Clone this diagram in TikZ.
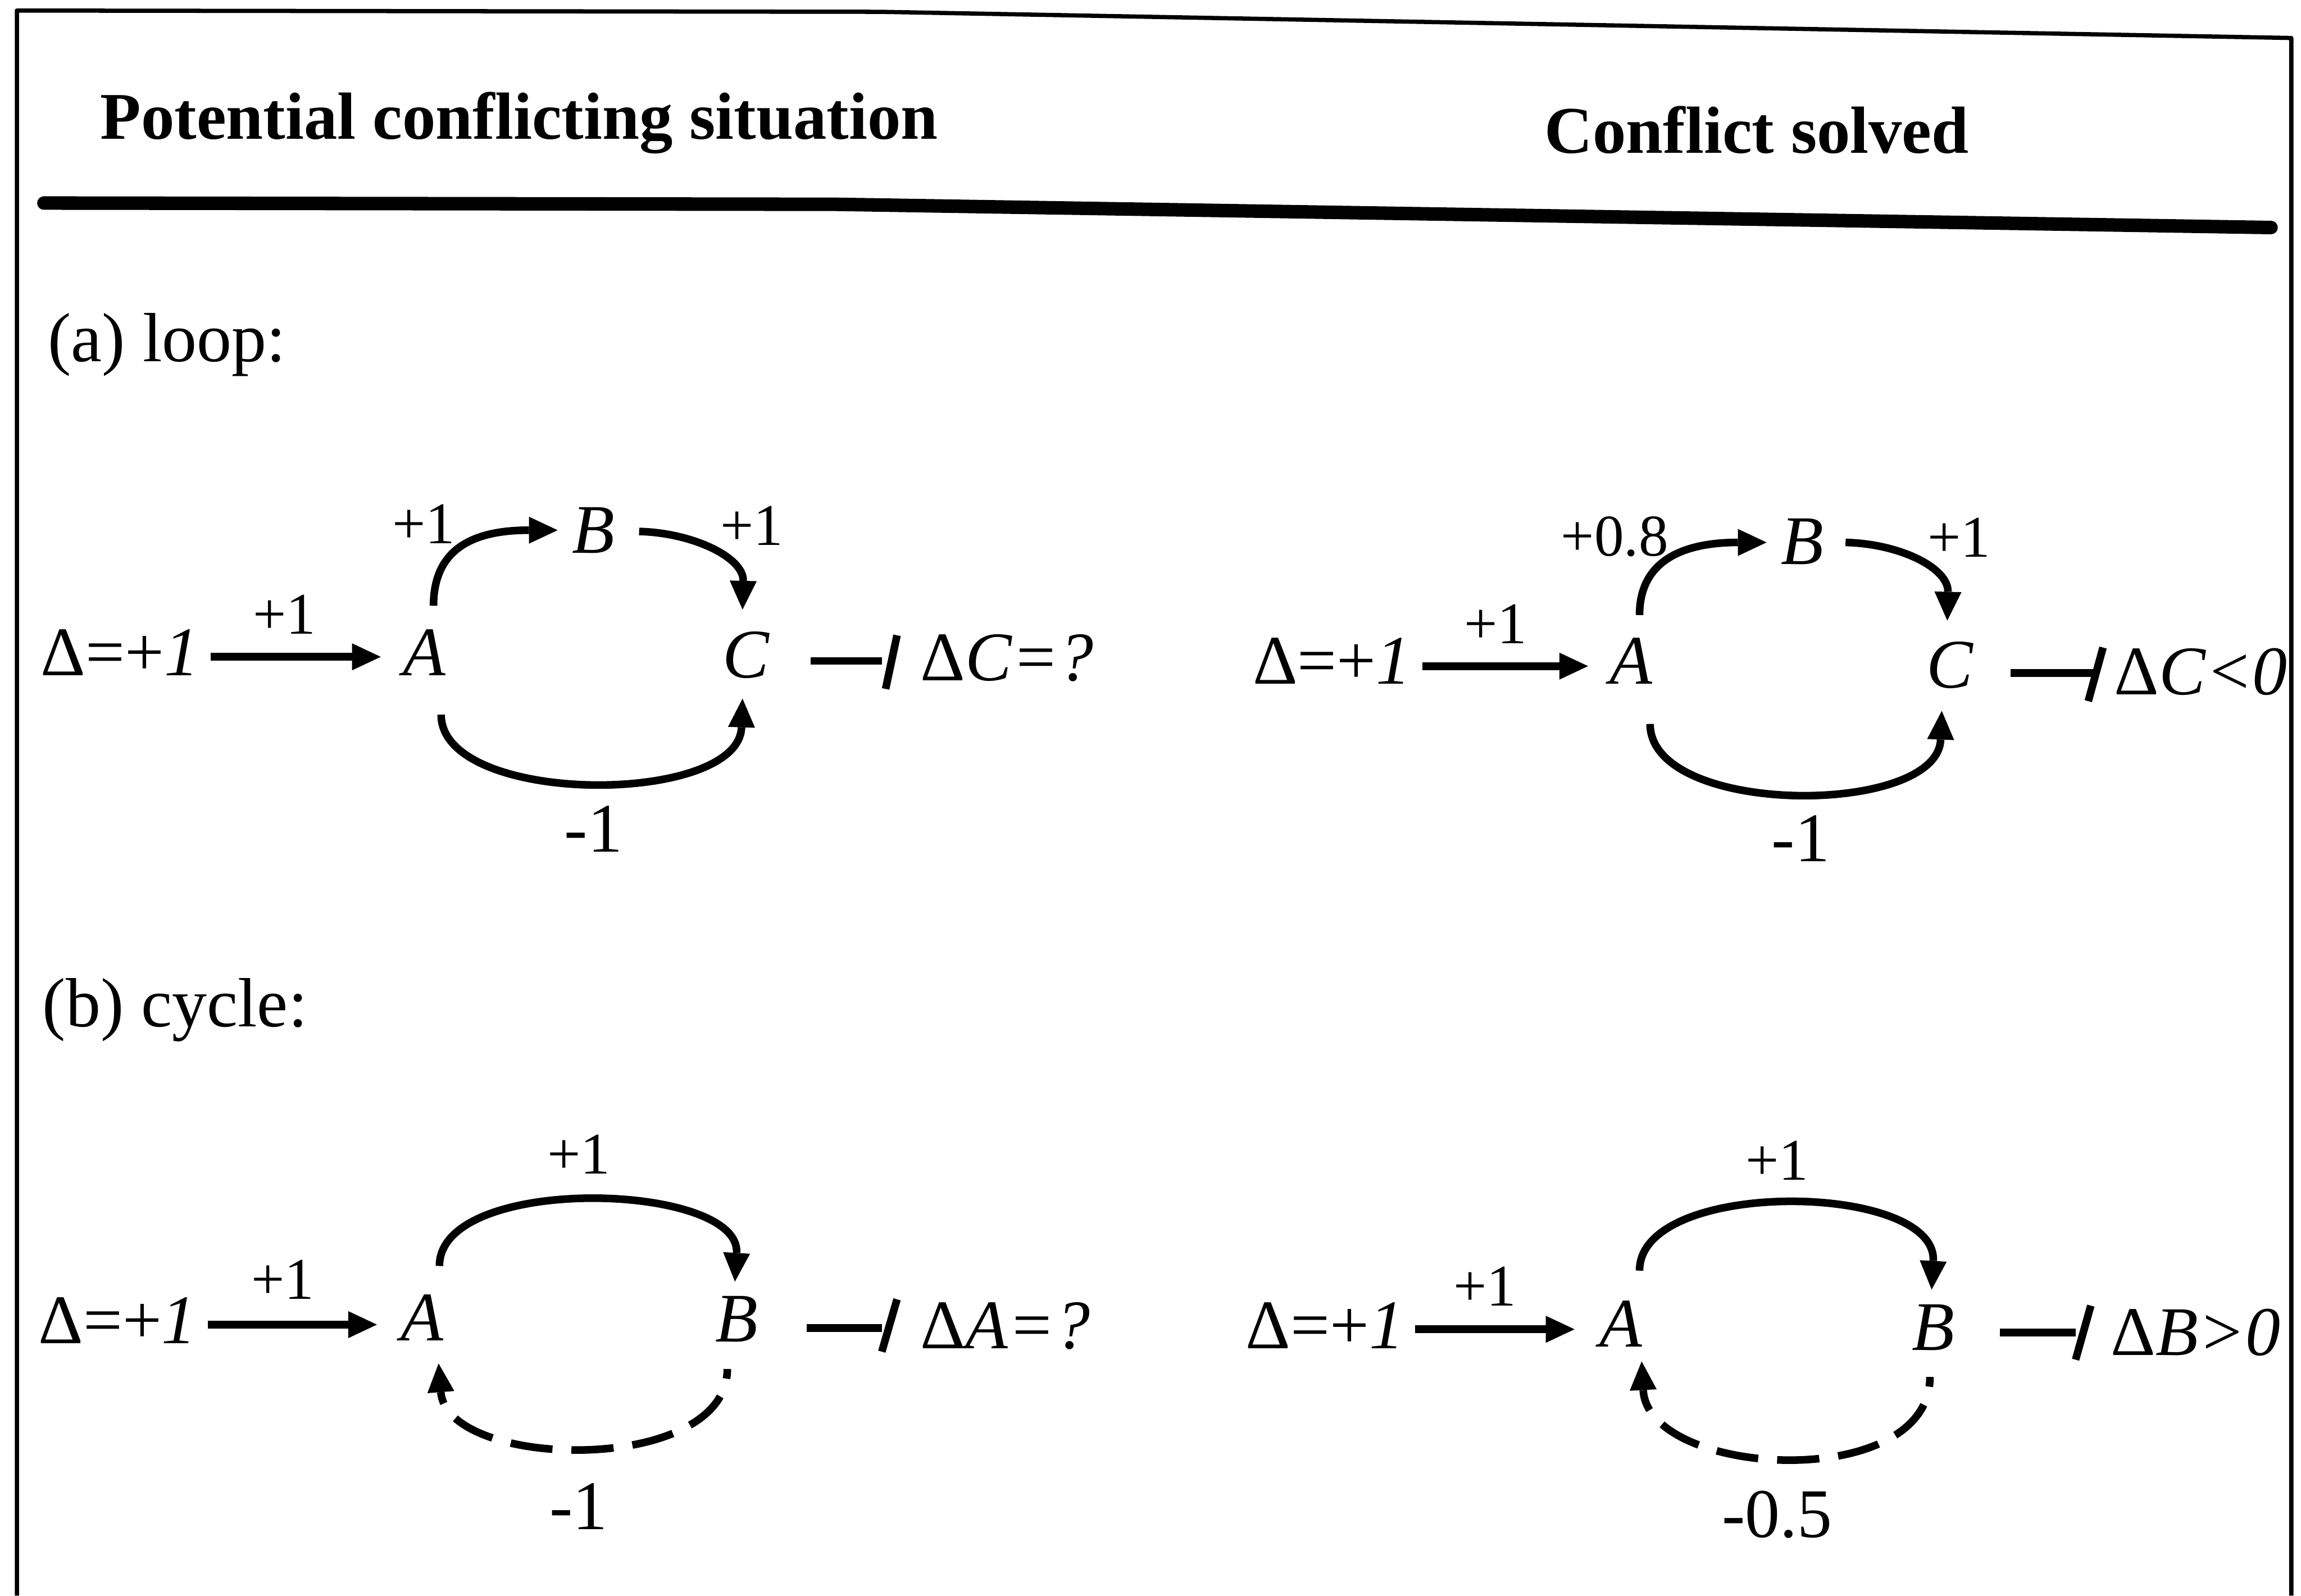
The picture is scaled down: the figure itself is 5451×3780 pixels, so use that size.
\documentclass[tikz,border=0pt]{standalone}
\usepackage{fontspec}
\setmainfont{Liberation Serif}
\usetikzlibrary{arrows.meta,calc}
\begin{document}
\begin{tikzpicture}[x=0.1pt,y=-0.1pt,
  txt/.style={inner sep=0pt, font=\fontsize{16.5}{19}\selectfont, anchor=base},
  lbl/.style={inner sep=0pt, font=\fontsize{14}{17}\selectfont, anchor=base},
  hdr/.style={inner sep=0pt, font=\fontsize{15.8}{19}\selectfont\bfseries, anchor=base west},
  frame/.style={line width=1pt, line join=round},
  rule/.style={line width=3.2pt, line cap=round, line join=round},
  arr/.style={line width=1.8pt, -{Triangle[length=6.8pt,width=6.4pt,line width=0pt]}},
  darr/.style={arr, dash pattern=on 10pt off 4.5pt, dash phase=7.7pt},
  inh/.style={line width=1.8pt},
]
\useasboundingbox (0,0) rectangle (5451,3780);
% frame
\draw[frame] (40,3780) -- (40,25) -- (2085,28) -- (5428,90) -- (5428,3780);
\draw[rule] (104,481) -- (1980,484) -- (5380,539);
% headers
\node[hdr] (h1) at (236,329) {Potential conflicting situation};
\node[hdr] (h2) at (3657,362) {Conflict solved};
\node[txt, anchor=base west] (sa) at (112,857) {(a) loop:};
\node[txt, anchor=base west] (sb) at (99,2432) {(b) cycle:};

% ---------- (a) left ----------
\node[txt, anchor=base west] (da1) at (95,1600) {Δ=+\textit{1}};
\node[txt] (A1) at (1005,1600) {\textit{A}};
\node[txt] (B1) at (1406,1310) {\textit{B}};
\node[txt] (C1) at (1768,1605) {\textit{C}};
\node[txt, anchor=base west] (dC1) at (2179,1612) {Δ\textit{C=?}};
\node[lbl] (l11) at (674,1502) {+1};
\node[lbl] (l12) at (1004,1288) {+1};
\node[lbl] (l13) at (1781,1291) {+1};
\node[txt] (l14) at (1406,2018) {-1};
\draw[arr] ($(da1.base east)+(25,-44)$) -- ($(A1.base)+(-103,-44)$);
\draw[arr] ($(A1.base)+(22,-165)$) .. controls +(0,-135) and +(-200,0) .. ($(B1.base)+(-85,-54)$);
\draw[arr] ($(B1.base)+(108,-51)$) .. controls +(126,3) and +(3,-124) .. ($(C1.base)+(-9,-161)$);
\draw[arr] ($(A1.base)+(40,93)$) .. controls +(0,217) and +(-9,255) .. ($(C1.base)+(-9,50)$);
\draw[inh] ($(C1.base)+(152,-39)$) -- ($(dC1.base west)+(-90,-46)$);
\draw[inh] ($(dC1.base west)+(-54,-107)$) -- ($(dC1.base west)+(-81,20)$);

% ---------- (a) right ----------
\node[txt, anchor=base west] (da2) at (2966,1620) {Δ=+\textit{1}};
\node[txt] (A2) at (3864,1620) {\textit{A}};
\node[txt] (B2) at (4270,1337) {\textit{B}};
\node[txt] (C2) at (4620,1630) {\textit{C}};
\node[txt, anchor=base west] (dC2) at (5007,1645) {Δ\textit{C<0}};
\node[lbl] (l21) at (3543,1524) {+1};
\node[lbl] (l22) at (3825,1317) {+0.8};
\node[lbl] (l23) at (4641,1320) {+1};
\node[txt] (l24) at (4266,2041) {-1};
\draw[arr] ($(da2.base east)+(25,-42)$) -- ($(A2.base)+(-102,-42)$);
\draw[arr] ($(A2.base)+(20,-163)$) .. controls +(0,-137) and +(-185,0) .. ($(B2.base)+(-85,-52)$);
\draw[arr] ($(B2.base)+(102,-52)$) .. controls +(128,3) and +(3,-125) .. ($(C2.base)+(-7,-160)$);
\draw[arr] ($(A2.base)+(45,95)$) .. controls +(0,220) and +(-10,251) .. ($(C2.base)+(-20,54)$);
\draw[inh] ($(C2.base)+(143,-36)$) -- ($(dC2.base west)+(-49,-51)$);
\draw[inh] ($(dC2.base west)+(-25,-111)$) -- ($(dC2.base west)+(-60,16)$);

% ---------- (b) left ----------
\node[txt, anchor=base west] (db1) at (89,3182) {Δ=+\textit{1}};
\node[txt] (A3) at (1000,3176) {\textit{A}};
\node[txt] (B3) at (1745,3179) {\textit{B}};
\node[txt, anchor=base west] (dA3) at (2179,3195) {Δ\textit{A=?}};
\node[lbl] (l31) at (670,3078) {+1};
\node[lbl] (l32) at (1371,2781) {+1};
\node[txt] (l33) at (1371,3623) {-1};
\draw[arr] ($(db1.base east)+(25,-44)$) -- ($(A3.base)+(-107,-38)$);
\draw[arr] ($(A3.base)+(41,-177)$) .. controls +(0,-219) and +(14,-236) .. ($(B3.base)+(-4,-143)$);
\draw[darr] ($(B3.base)+(-22,64)$) .. controls +(0,253) and +(20,253) .. ($(A3.base)+(39,54)$);
\draw[inh] ($(B3.base)+(166,-33)$) -- ($(dA3.base west)+(-90,-49)$);
\draw[inh] ($(dA3.base west)+(-54,-117)$) -- ($(dA3.base west)+(-90,7)$);

% ---------- (b) right ----------
\node[txt, anchor=base west] (db2) at (2949,3195) {Δ=+\textit{1}};
\node[txt] (A4) at (3840,3191) {\textit{A}};
\node[txt] (B4) at (4580,3198) {\textit{B}};
\node[txt, anchor=base west] (dB4) at (4999,3210) {Δ\textit{B>0}};
\node[lbl] (l41) at (3518,3093) {+1};
\node[lbl] (l42) at (4210,2796) {+1};
\node[txt] (l43) at (4210,3642) {-0.5};
\draw[arr] ($(db2.base east)+(25,-46)$) -- ($(A4.base)+(-110,-42)$);
\draw[arr] ($(A4.base)+(44,-181)$) .. controls +(0,-220) and +(14,-255) .. ($(B4.base)+(-4,-143)$);
\draw[darr] ($(B4.base)+(-8,64)$) .. controls +(0,276) and +(15,276) .. ($(A4.base)+(49,34)$);
\draw[inh] ($(B4.base)+(158,-41)$) -- ($(dB4.base west)+(-82,-53)$);
\draw[inh] ($(dB4.base west)+(-46,-117)$) -- ($(dB4.base west)+(-82,11)$);
\end{tikzpicture}
\end{document}
